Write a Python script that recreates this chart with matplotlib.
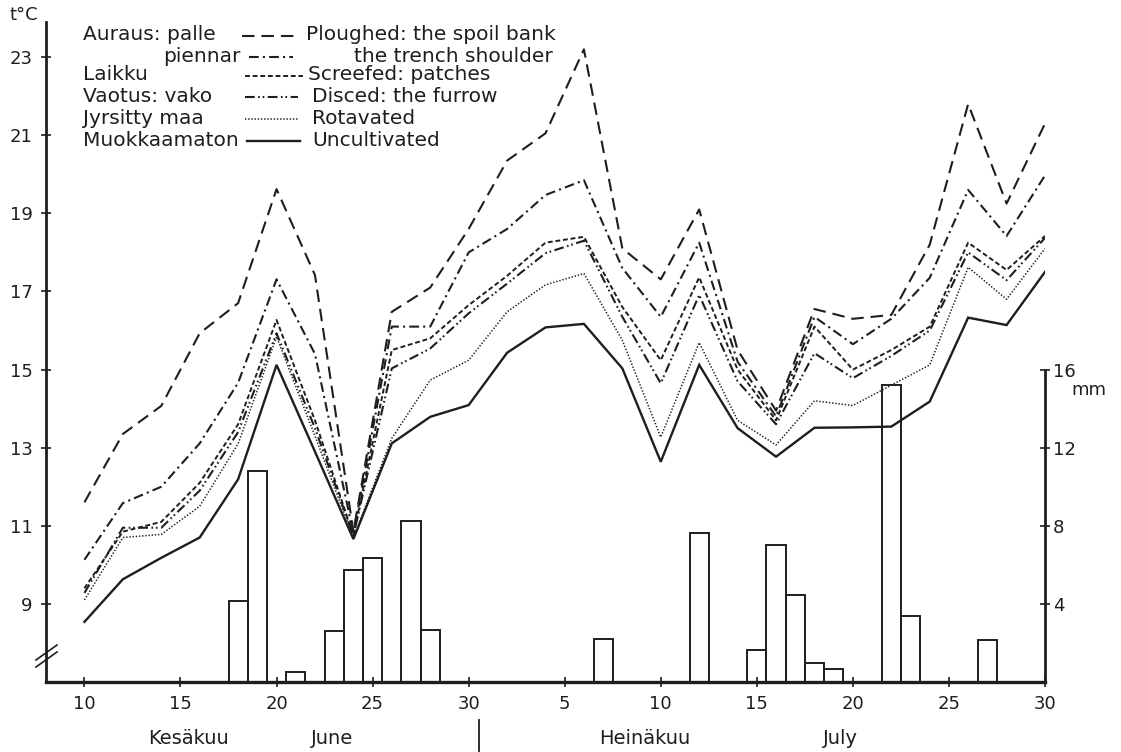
import matplotlib
matplotlib.use("Agg")
import matplotlib.pyplot as plt
from matplotlib.lines import Line2D

# Päivät: kesäkuun päivät 10..30, heinäkuu jatkuu 31.. (heinäkuun 30. = 60)
temp_days = [10, 12, 14, 16, 18, 20, 22, 24, 26, 28, 30, 32, 34,
             36, 38, 40, 42, 44, 46, 48, 50, 52, 54, 56, 58, 60]

# Lämpötilat (t °C)
spoil_bank = [11.6, 13.35, 14.07, 15.93, 16.7, 19.62, 17.42, 10.85, 16.48, 17.1, 18.6, 20.35, 21.05,
              23.2, 18.1, 17.31, 19.1, 15.5, 13.95, 16.55, 16.3, 16.4, 18.2, 21.8, 19.25, 21.3]
trench_shoulder = [10.13, 11.58, 12.0, 13.11, 14.66, 17.31, 15.4, 10.8, 16.1, 16.1, 18.0, 18.6, 19.47,
                   19.85, 17.6, 16.35, 18.25, 15.2, 13.8, 16.35, 15.65, 16.3, 17.35, 19.6, 18.42, 19.97]
screefed = [9.4, 10.85, 11.1, 12.1, 13.6, 16.27, 13.7, 10.75, 15.5, 15.8, 16.65, 17.4, 18.25,
            18.4, 16.6, 15.24, 17.36, 15.0, 13.7, 16.1, 15.0, 15.5, 16.1, 18.25, 17.55, 18.42]
disced = [9.28, 10.95, 10.95, 11.9, 13.4, 15.93, 13.5, 10.75, 15.03, 15.54, 16.44, 17.2, 17.98,
          18.3, 16.35, 14.65, 16.91, 14.7, 13.6, 15.42, 14.78, 15.35, 16.0, 18.0, 17.29, 18.37]
rotavated = [9.1, 10.7, 10.78, 11.5, 13.1, 15.84, 13.3, 10.7, 13.24, 14.73, 15.24, 16.48, 17.17,
             17.46, 15.75, 13.27, 15.69, 13.7, 13.07, 14.2, 14.08, 14.6, 15.12, 17.62, 16.8, 18.1]
uncultivated = [8.54, 9.63, 10.18, 10.7, 12.19, 15.12, 12.9, 10.66, 13.11, 13.79, 14.09, 15.43, 16.08,
                16.17, 15.03, 12.64, 15.12, 13.5, 12.77, 13.51, 13.52, 13.54, 14.18, 16.33, 16.14, 17.5]

# Sademäärä (mm)
rain_days = [18, 19, 21, 23, 24, 25, 27, 28, 37, 42, 45, 46, 47, 48, 49, 52, 53, 57]
rain_mm = [4.15, 10.8, 0.5, 2.6, 5.75, 6.35, 8.25, 2.65, 2.2, 7.65, 1.65, 7.0, 4.45, 0.95, 0.65, 15.2, 3.4, 2.15]

xtick_pos = [10, 15, 20, 25, 30, 35, 40, 45, 50, 55, 60]
xtick_labels = ['10', '15', '20', '25', '30', '5', '10', '15', '20', '25', '30']
ytick_temp = [9, 11, 13, 15, 17, 19, 21, 23]
ytick_mm = [4, 8, 12, 16]

INK = '#1e1e1e'
W, H = 1121, 752

plt.rcParams['lines.scale_dashes'] = False
plt.rcParams['font.family'] = 'DejaVu Sans'

fig = plt.figure(figsize=(W / 100, H / 100), dpi=100)
fig.patch.set_facecolor('white')


def px(x, y):
    # kuvapikselit -> figure-koordinaatit
    return x / W, 1 - y / H


ax = fig.add_axes([46 / W, 1 - 682 / H, (1045 - 46) / W, (682 - 22) / H])
ax.set_facecolor('none')

styles = [
    (spoil_bank, dict(dashes=(9, 5), lw=1.5)),
    (trench_shoulder, dict(dashes=(7, 3, 1.5, 3), lw=1.5)),
    (screefed, dict(dashes=(3.5, 2), lw=1.4)),
    (disced, dict(dashes=(7, 2.5, 1.2, 2, 1.2, 2.5), lw=1.5)),
    (rotavated, dict(dashes=(1, 1.3), lw=1.1)),
    (uncultivated, dict(linestyle='-', lw=1.7)),
]
for values, st in styles:
    ax.plot(temp_days, values, color=INK, solid_joinstyle='miter', **st)

ax.set_xlim(8, 60)
ax.set_ylim(7, 23.9)
ax.set_xticks(xtick_pos)
ax.set_xticklabels(xtick_labels)
ax.set_yticks(ytick_temp)
ax.tick_params(axis='both', direction='inout', length=7, width=1.2, color=INK,
               labelsize=13, labelcolor=INK)
ax.tick_params(axis='y', pad=6)
ax.tick_params(axis='x', pad=6)
for s in ['top', 'right']:
    ax.spines[s].set_visible(False)
ax.spines['left'].set_linewidth(2.0)
ax.spines['bottom'].set_linewidth(2.4)
for s in ['left', 'bottom']:
    ax.spines[s].set_color(INK)

# sademäärä oikealle akselille, 0 mm = 7 °C ja 4 mm = 2 °C
ax2 = ax.twinx()
ax2.bar(rain_days, rain_mm, width=1.0, facecolor='none', edgecolor=INK, linewidth=1.4)
ax2.set_ylim(0, 2 * (23.9 - 7))
ax2.set_yticks(ytick_mm)
ax2.tick_params(axis='y', direction='inout', length=7, width=1.2, color=INK,
                labelsize=13, labelcolor=INK, pad=2)
for s in ['top', 'left', 'bottom']:
    ax2.spines[s].set_visible(False)
ax2.spines['right'].set_bounds(0, 16)
ax2.spines['right'].set_linewidth(2.0)
ax2.spines['right'].set_color(INK)

# akselin katkos //
for dy in (0, 7):
    fig.add_artist(Line2D([36 / W, 57 / W], [1 - (660 + dy) / H, 1 - (645 + dy) / H],
                          color=INK, lw=1.2))

# yksiköt
fig.text(*px(24, 15), 't°C', fontsize=13, ha='center', va='center', color=INK)
fig.text(*px(1089, 390), 'mm', fontsize=13, ha='center', va='center', color=INK)

# selite
fs = 14.5
rows = [35, 56, 75, 96, 118, 140]
left_txt = [(83, 'Auraus: palle'), (163, 'piennar'), (83, 'Laikku'),
            (83, 'Vaotus: vako'), (83, 'Jyrsitty maa'), (83, 'Muokkaamaton')]
right_txt = [(306, 'Ploughed: the spoil bank'), (354, 'the trench shoulder'),
             (308, 'Screefed: patches'), (312, 'Disced: the furrow'),
             (312, 'Rotavated'), (312, 'Uncultivated')]
samples = [(242, 296), (249, 293), (245, 303), (245, 298), (245, 298), (247, 300)]
for i, y in enumerate(rows):
    fig.text(*px(left_txt[i][0], y), left_txt[i][1], fontsize=fs, va='center', color=INK)
    fig.text(*px(right_txt[i][0], y), right_txt[i][1], fontsize=fs, va='center', color=INK)
    st = dict(styles[i][1])
    x0, x1 = samples[i]
    fig.add_artist(Line2D([x0 / W, x1 / W], [1 - (y + 1) / H] * 2, color=INK, **st))

# kuukaudet
for x, t in [(189, 'Kesäkuu'), (332, 'June'), (645, 'Heinäkuu'), (840, 'July')]:
    fig.text(*px(x, 738), t, fontsize=14, ha='center', va='center', color=INK)
fig.add_artist(Line2D([479 / W] * 2, [1 - 720 / H, 1 - 751 / H], color=INK, lw=1.3))

fig.savefig('out.png', dpi=100, facecolor='white')
